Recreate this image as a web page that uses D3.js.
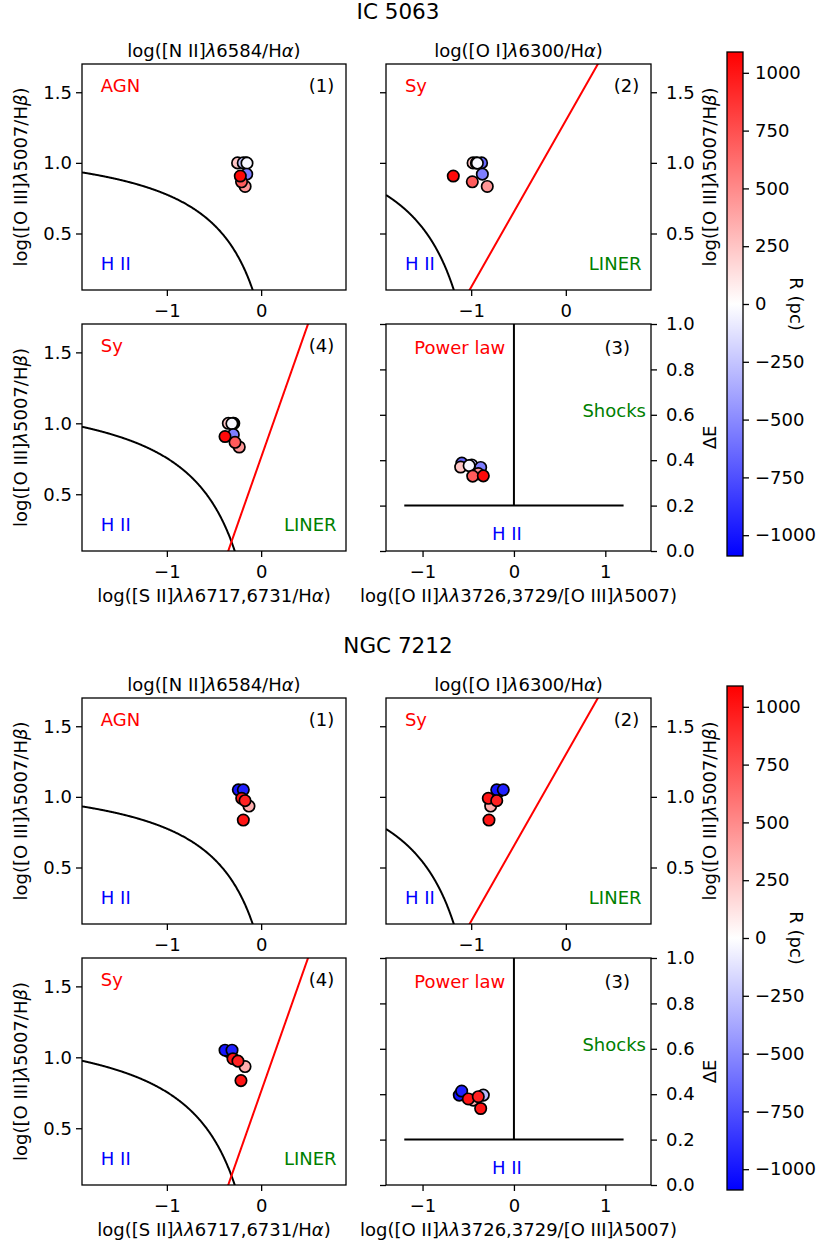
<!DOCTYPE html>
<html><head><meta charset="utf-8">
<script src="https://cdn.jsdelivr.net/npm/d3@7"></script>
<style>
body{margin:0;background:#fff}
svg{display:block}
text{font-family:"DejaVu Sans",sans-serif;}
</style>
</head><body><div id="chart"></div>
<script>
// ---------------- DATA ----------------
const figTitles = ["IC 5063", "NGC 7212"];

// IC 5063 : R (pc) and line ratios per spaxel
const ic5063_R    = [-650, 250, -250, -30, -550, 450, 700, 1050];
const ic5063_OIII = [1.00, 1.00, 1.00, 0.998, 0.92, 0.833, 0.866, 0.907];
const ic5063_NII  = [-0.16, -0.25, -0.19, -0.15, -0.153, -0.17, -0.208, -0.221];
const ic5063_OI   = [-0.89, -0.98, -0.945, -0.935, -0.882, -0.83, -0.988, -1.189];
const ic5063_SII  = [-0.29, -0.348, -0.30, -0.31, -0.295, -0.232, -0.277, -0.383];
const ic5063_OII  = [-0.57, -0.583, -0.462, -0.49, -0.364, -0.39, -0.451, -0.335];
const ic5063_dE   = [0.387, 0.370, 0.379, 0.376, 0.368, 0.341, 0.330, 0.331];

// NGC 7212
const ngc7212_R    = [-300, -1000, -950, 350, 1000, 950, 1000];
const ngc7212_OIII = [1.04, 1.05, 1.05, 0.935, 0.99, 0.973, 0.836];
const ngc7212_NII  = [-0.215, -0.242, -0.189, -0.129, -0.206, -0.171, -0.189];
const ngc7212_OI   = [-0.70, -0.73, -0.661, -0.794, -0.819, -0.730, -0.812];
const ngc7212_SII  = [-0.345, -0.383, -0.309, -0.171, -0.299, -0.246, -0.214];
const ngc7212_OII  = [-0.335, -0.598, -0.572, -0.445, -0.499, -0.39, -0.364];
const ngc7212_dE   = [0.396, 0.396, 0.414, 0.374, 0.379, 0.389, 0.337];

// axis ticks
const bptXTicks = [-1, 0];
const bptYTicks = [0.5, 1.0, 1.5];
const oiiXTicks = [-1, 0, 1];
const dETicks = [0.0, 0.2, 0.4, 0.6, 0.8, 1.0];
const cbarTicks = [-1000, -750, -500, -250, 0, 250, 500, 750, 1000];

// annotations (data coordinates)
const annotNII = [["AGN", -1.7, 1.5, "#ff0000", "start"], ["(1)", 0.775, 1.5, "#000", "end"], ["H II", -1.7, 0.24, "#0000ff", "start"]];
const annotOI  = [["Sy", -1.7, 1.5, "#ff0000", "start"], ["(2)", 0.775, 1.5, "#000", "end"], ["H II", -1.7, 0.24, "#0000ff", "start"], ["LINER", 0.80, 0.24, "#008000", "end"]];
const annotSII = [["Sy", -1.7, 1.5, "#ff0000", "start"], ["(4)", 0.775, 1.5, "#000", "end"], ["H II", -1.7, 0.24, "#0000ff", "start"], ["LINER", 0.80, 0.24, "#008000", "end"]];
const annotOII = [["Power law", -1.09, 0.87, "#ff0000", "start"], ["(3)", 1.27, 0.87, "#000", "end"], ["Shocks", 1.445, 0.59, "#008000", "end"], ["H II", -0.24, 0.047, "#0000ff", "start"]];

// ---------------- LAYOUT ----------------
const W = 819, H = 1248;
const FS = 18;
const figOffsets = [0, 634];
const P = {
  NII: {x0: 82, x1: 346, y0: 64, y1: 290},
  OI:  {x0: 386, x1: 651, y0: 64, y1: 290},
  SII: {x0: 82, x1: 346, y0: 324, y1: 551},
  OII: {x0: 386, x1: 651, y0: 324, y1: 551}
};
const bptXDom = [-1.9, 0.9], bptYDom = [0.1, 1.7], oiiXDom = [-1.4, 1.5], dEDom = [0, 1];
const cbar = {x0: 727, x1: 743, y0: 52, y1: 556};
const cDom = [-1090, 1090];

const color = d3.scaleLinear().domain([cDom[0], 0, cDom[1]]).range(["#0000ff", "#ffffff", "#ff0000"]);

const svg = d3.select("#chart").append("svg").attr("width", W).attr("height", H);
svg.append("rect").attr("width", W).attr("height", H).attr("fill", "#fff");

const defs = svg.append("defs");
const grad = defs.append("linearGradient").attr("id", "bwr").attr("x1", 0).attr("y1", 1).attr("x2", 0).attr("y2", 0);
grad.append("stop").attr("offset", "0%").attr("stop-color", color(cDom[0]));
grad.append("stop").attr("offset", "50%").attr("stop-color", color(0));
grad.append("stop").attr("offset", "100%").attr("stop-color", color(cDom[1]));

function mathText(sel, parts) {
  parts.forEach((p, i) => {
    sel.append("tspan").text(p).attr("font-style", i % 2 === 1 ? "italic" : null);
  });
  return sel;
}
const lblNII = ["log([N II]", "λ", "6584/H", "α", ")"];
const lblOI  = ["log([O I]", "λ", "6300/H", "α", ")"];
const lblSII = ["log([S II]", "λλ", "6717,6731/H", "α", ")"];
const lblOII = ["log([O II]", "λλ", "3726,3729/[O III]", "λ", "5007)"];
const lblOIII = ["log([O III]", "λ", "5007/H", "β", ")"];

let clipId = 0;
function styleAxis(g) {
  g.select(".domain").remove();
  g.selectAll(".tick line").attr("stroke", "#000").attr("stroke-width", 1.3);
  g.selectAll(".tick text").attr("fill", "#000").attr("font-size", FS).attr("font-family", "DejaVu Sans");
}

function drawPanel(root, box, oy, xDom, yDom, opts) {
  const x = d3.scaleLinear().domain(xDom).range([box.x0, box.x1]);
  const y = d3.scaleLinear().domain(yDom).range([box.y1 + oy, box.y0 + oy]);
  const g = root.append("g");
  const id = "clip" + (clipId++);
  defs.append("clipPath").attr("id", id).append("rect")
    .attr("x", box.x0).attr("y", box.y0 + oy).attr("width", box.x1 - box.x0).attr("height", box.y1 - box.y0);
  const inner = g.append("g").attr("clip-path", `url(#${id})`);

  (opts.lines || []).forEach(L => {
    const pts = L.pts.filter(p => isFinite(p[1]) && p[1] > yDom[0] - 2);
    inner.append("path").datum(pts)
      .attr("d", d3.line().x(d => x(d[0])).y(d => y(d[1])))
      .attr("fill", "none").attr("stroke", L.c).attr("stroke-width", 2);
  });

  inner.selectAll("circle").data(opts.pts).join("circle")
    .attr("cx", d => x(d[0])).attr("cy", d => y(d[1])).attr("r", 5.7)
    .attr("fill", d => color(d[2])).attr("stroke", "#000").attr("stroke-width", 1.7);

  opts.ann.forEach(a => {
    g.append("text").attr("x", x(a[1])).attr("y", y(a[2])).attr("fill", a[3])
      .attr("text-anchor", a[4]).attr("font-size", FS).text(a[0]);
  });

  g.append("rect").attr("x", box.x0).attr("y", box.y0 + oy).attr("width", box.x1 - box.x0).attr("height", box.y1 - box.y0)
    .attr("fill", "none").attr("stroke", "#000").attr("stroke-width", 1.3);

  const fmtX = d3.format("d");
  g.append("g").attr("transform", `translate(0,${box.y1 + oy})`)
    .call(d3.axisBottom(x).tickValues(opts.xTicks).tickFormat(fmtX).tickSize(6).tickPadding(8)).call(styleAxis);
  g.append("g").attr("transform", `translate(${box.x0},0)`)
    .call(d3.axisLeft(y).tickValues(opts.yTicks).tickFormat(opts.leftLabels ? d3.format(".1f") : () => "").tickSize(6).tickPadding(4)).call(styleAxis);
  if (opts.rightLabels) {
    g.append("g").attr("transform", `translate(${box.x1},0)`)
      .call(d3.axisRight(y).tickValues(opts.yTicks).tickFormat(d3.format(".1f")).tickSize(6).tickPadding(9)).call(styleAxis);
  }
  return {x, y};
}

function curve(f, xa, xb) {
  const n = 400;
  return d3.range(n + 1).map(i => { const xv = xa + (xb - xa) * i / n; return [xv, f(xv)]; });
}

function drawFigure(fi, D) {
  const oy = figOffsets[fi];
  const root = svg.append("g");
  root.append("text").attr("x", 398).attr("y", 19 + oy).attr("text-anchor", "middle").attr("font-size", 21.5).text(figTitles[fi]);

  const zip = (xs) => xs.map((v, i) => [v, D.OIII[i], D.R[i]]);

  drawPanel(root, P.NII, oy, bptXDom, bptYDom, {
    xTicks: bptXTicks, yTicks: bptYTicks, leftLabels: true,
    pts: zip(D.NII), ann: annotNII,
    lines: [{c: "#000", pts: curve(v => 0.61 / (v - 0.47) + 1.19, -1.9, 0.0)}]
  });
  drawPanel(root, P.OI, oy, bptXDom, bptYDom, {
    xTicks: bptXTicks, yTicks: bptYTicks, leftLabels: false, rightLabels: true,
    pts: zip(D.OI), ann: annotOI,
    lines: [{c: "#000", pts: curve(v => 0.73 / (v + 0.59) + 1.33, -1.9, -1.0)},
            {c: "#ff0000", pts: curve(v => 1.18 * v + 1.30, -1.1, 0.4)}]
  });
  drawPanel(root, P.SII, oy, bptXDom, bptYDom, {
    xTicks: bptXTicks, yTicks: bptYTicks, leftLabels: true,
    pts: zip(D.SII), ann: annotSII,
    lines: [{c: "#000", pts: curve(v => 0.72 / (v - 0.32) + 1.30, -1.9, -0.2)},
            {c: "#ff0000", pts: curve(v => 1.89 * v + 0.76, -0.4, 0.55)}]
  });
  drawPanel(root, P.OII, oy, oiiXDom, dEDom, {
    xTicks: oiiXTicks, yTicks: dETicks, leftLabels: false, rightLabels: true,
    pts: D.OII.map((v, i) => [v, D.dE[i], D.R[i]]), ann: annotOII,
    lines: [{c: "#000", pts: [[0, 0.2], [0, 1.0]]}, {c: "#000", pts: [[-1.2, 0.2], [1.2, 0.2]]}]
  });

  mathText(root.append("text").attr("x", (P.NII.x0 + P.NII.x1) / 2).attr("y", 57 + oy).attr("text-anchor", "middle").attr("font-size", FS), lblNII);
  mathText(root.append("text").attr("x", (P.OI.x0 + P.OI.x1) / 2).attr("y", 57 + oy).attr("text-anchor", "middle").attr("font-size", FS), lblOI);
  mathText(root.append("text").attr("x", (P.SII.x0 + P.SII.x1) / 2).attr("y", 602 + oy).attr("text-anchor", "middle").attr("font-size", FS), lblSII);
  mathText(root.append("text").attr("x", (P.OII.x0 + P.OII.x1) / 2).attr("y", 602 + oy).attr("text-anchor", "middle").attr("font-size", FS), lblOII);
  [[27, (P.NII.y0 + P.NII.y1) / 2], [27, (P.SII.y0 + P.SII.y1) / 2], [716, (P.OI.y0 + P.OI.y1) / 2]].forEach(([lx, ly]) => {
    mathText(root.append("text").attr("transform", `translate(${lx},${ly + oy}) rotate(-90)`).attr("text-anchor", "middle").attr("font-size", FS), lblOIII);
  });
  root.append("text").attr("transform", `translate(716,${(P.OII.y0 + P.OII.y1) / 2 + oy}) rotate(-90)`).attr("text-anchor", "middle").attr("font-size", FS).text("ΔE");

  const cy = d3.scaleLinear().domain(cDom).range([cbar.y1 + oy, cbar.y0 + oy]);
  root.append("rect").attr("x", cbar.x0).attr("y", cbar.y0 + oy).attr("width", cbar.x1 - cbar.x0).attr("height", cbar.y1 - cbar.y0)
    .attr("fill", "url(#bwr)").attr("stroke", "#000").attr("stroke-width", 1.3);
  root.append("g").attr("transform", `translate(${cbar.x1},0)`)
    .call(d3.axisRight(cy).tickValues(cbarTicks).tickFormat(d3.format("d")).tickSize(6).tickPadding(6)).call(styleAxis);
  root.append("text").attr("transform", `translate(790,${(cbar.y0 + cbar.y1) / 2 + oy}) rotate(90)`).attr("text-anchor", "middle").attr("font-size", FS).text("R (pc)");
}

drawFigure(0, {R: ic5063_R, OIII: ic5063_OIII, NII: ic5063_NII, OI: ic5063_OI, SII: ic5063_SII, OII: ic5063_OII, dE: ic5063_dE});
drawFigure(1, {R: ngc7212_R, OIII: ngc7212_OIII, NII: ngc7212_NII, OI: ngc7212_OI, SII: ngc7212_SII, OII: ngc7212_OII, dE: ngc7212_dE});
</script>
</body></html>
